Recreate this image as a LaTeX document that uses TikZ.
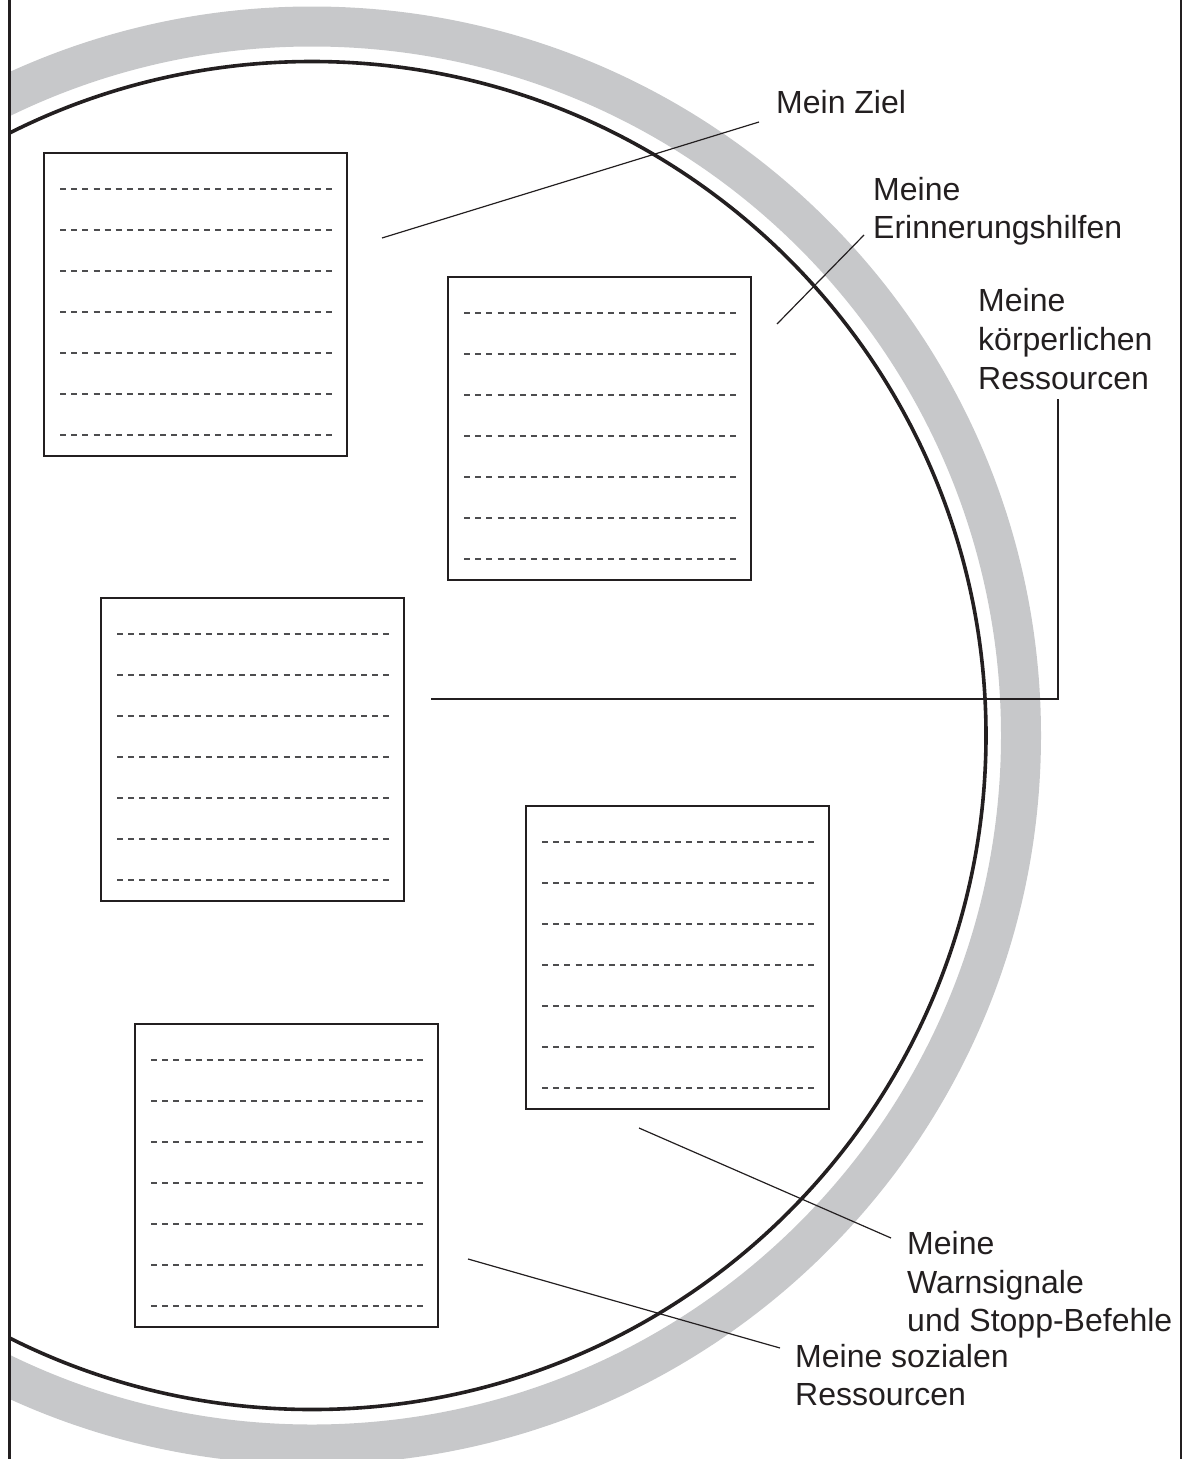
\documentclass[tikz,border=0pt]{standalone}
\usepackage{fontspec}
\setmainfont{Liberation Sans}
\definecolor{ink}{HTML}{231F20}
\definecolor{ringgray}{HTML}{C7C8CA}
\definecolor{dashgray}{HTML}{4D4D4F}
\begin{document}
\begin{tikzpicture}[x=1pt,y=-1pt,
  card/.style={draw=ink,line width=2.4pt,inner sep=0pt,minimum width=303pt,minimum height=303pt},
  writeline/.style={draw=dashgray,line width=1.4pt,dash pattern=on 6pt off 5.083pt},
  leader/.style={draw=ink,line width=1.2pt},
  label/.style={anchor=north west,inner sep=0pt,align=left,text=ink,font=\fontsize{32}{38.6}\selectfont}]
\useasboundingbox (0,0) rectangle (1182,1459);
% ring and circle
\begin{scope}
  \clip (10,0) rectangle (1180.5,1459);
  \fill[ringgray,even odd rule] (312,735.5) circle[radius=729pt] (312,735.5) circle[radius=689pt];
  \draw[ink,line width=3.6pt] (312,735.5) circle[radius=674pt];
\end{scope}
% frame
\draw[ink,line width=2.6pt] (9.7,0) -- (9.7,1459);
\draw[ink,line width=2.6pt] (1180.8,0) -- (1180.8,1459);
% cards
\node[card] (b1) at (195.5,304.5) {};
\node[card] (b2) at (599.5,428.5) {};
\node[card] (b3) at (252.5,749.5) {};
\node[card] (b4) at (677.5,957.5) {};
\node[card] (b5) at (286.5,1175.5) {};
\foreach \b in {b1,b2,b3,b4,b5}{
  \foreach \k in {0,...,6}{
    \draw[writeline] ([shift={(17.5,{37+41*\k})}]\b.north west) -- ++(272,0);
  }
}
% labels
\node[label] (lziel) at (776,89.3) {\rule{0pt}{24pt}Mein Ziel};
\node[label] (lerin) at (873,176) {\rule{0pt}{24pt}Meine\\Erinnerungshilfen};
\node[label] (lkoer) at (978,287.7) {\rule{0pt}{24pt}Meine\\körperlichen\\Ressourcen};
\node[label] (lwarn) at (907,1230.5) {\rule{0pt}{24pt}Meine\\Warnsignale\\und Stopp-Befehle};
\node[label] (lsoz) at (795,1343) {\rule{0pt}{24pt}Meine sozialen\\Ressourcen};
% leader ends
\coordinate (s1) at (382,238);   \coordinate (e1) at (759,122);
\coordinate (s2) at (777,324);   \coordinate (e2) at (864,235);
\coordinate (s3) at (431,699);   \coordinate (e3) at (1058,399);
\coordinate (s4) at (639,1128);  \coordinate (e4) at (891,1238);
\coordinate (s5) at (468,1259);  \coordinate (e5) at (780,1348);
\draw[leader] (s1) -- (e1);
\draw[leader] (s2) -- (e2);
\draw[leader] (s3) -| (e3);
\draw[leader] (s4) -- (e4);
\draw[leader] (s5) -- (e5);
\end{tikzpicture}
\end{document}
